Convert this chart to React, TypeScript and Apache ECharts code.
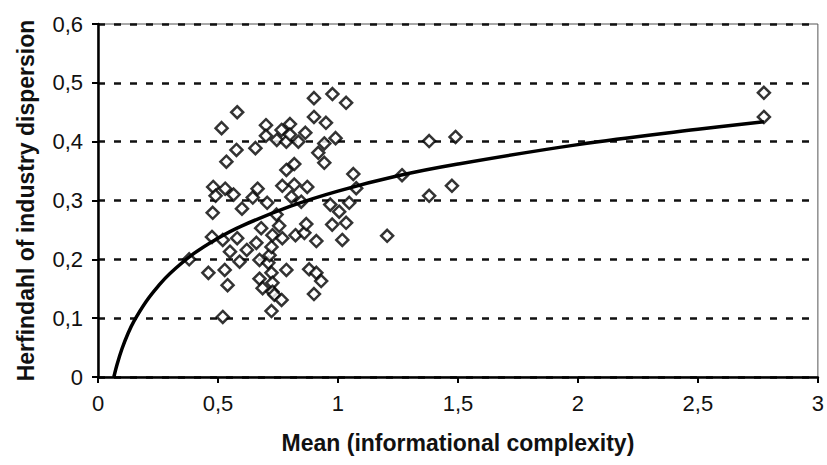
import React, { useEffect, useRef } from "react";
import * as echarts from "echarts";

// Scatter observations: [mean informational complexity, Herfindahl]
const pointsX = [
  0.38, 0.46, 0.475, 0.478, 0.48, 0.49, 0.515, 0.52, 0.52, 0.528, 0.53, 0.535, 0.54, 0.55, 0.565,
  0.577, 0.58, 0.58, 0.59, 0.6, 0.62, 0.645, 0.656, 0.66, 0.665, 0.673, 0.673, 0.68, 0.686, 0.7,
  0.7, 0.705, 0.71, 0.715, 0.723, 0.723, 0.723, 0.727, 0.727, 0.727, 0.735, 0.745, 0.744, 0.755,
  0.765, 0.765, 0.768, 0.768, 0.785, 0.785, 0.785, 0.8, 0.8, 0.806, 0.818, 0.818, 0.823, 0.835,
  0.847, 0.86, 0.864, 0.868, 0.872, 0.88, 0.9, 0.9, 0.9, 0.91, 0.91, 0.918, 0.93, 0.943, 0.943,
  0.95, 0.968, 0.976, 0.977, 0.99, 1.005, 1.018, 1.034, 1.034, 1.047, 1.064, 1.076, 1.205, 1.267,
  1.38, 1.38, 1.475, 1.49, 2.775, 2.775,
];
const pointsY = [
  0.2, 0.177, 0.238, 0.279, 0.323, 0.308, 0.423, 0.102, 0.233, 0.182, 0.32, 0.366, 0.156, 0.213, 0.31,
  0.386, 0.45, 0.236, 0.196, 0.286, 0.216, 0.305, 0.389, 0.228, 0.32, 0.199, 0.167, 0.253, 0.151, 0.428,
  0.41, 0.296, 0.194, 0.207, 0.221, 0.177, 0.112, 0.241, 0.16, 0.145, 0.14, 0.403, 0.276, 0.257,
  0.42, 0.131, 0.325, 0.236, 0.4, 0.352, 0.182, 0.43, 0.412, 0.306, 0.362, 0.327, 0.241, 0.4,
  0.298, 0.245, 0.415, 0.26, 0.323, 0.183, 0.474, 0.442, 0.141, 0.231, 0.177, 0.381, 0.163, 0.397, 0.364,
  0.432, 0.293, 0.259, 0.481, 0.406, 0.281, 0.233, 0.466, 0.262, 0.296, 0.345, 0.321, 0.24, 0.343,
  0.401, 0.308, 0.325, 0.408, 0.483, 0.442,
];

// Logarithmic trend line
const trendX = [0.066, 0.08, 0.1, 0.125, 0.15, 0.2, 0.25, 0.3, 0.4, 0.5, 0.6, 0.8, 1.0, 1.25, 1.5, 2.0, 2.5, 2.775];
const trendY = [0.0, 0.022, 0.048, 0.074, 0.095, 0.128, 0.154, 0.176, 0.21, 0.236, 0.257, 0.29, 0.316, 0.342, 0.362, 0.395, 0.421, 0.434];

// Axis ticks
const xTicks = [0, 0.5, 1, 1.5, 2, 2.5, 3];
const yTicks = [0, 0.1, 0.2, 0.3, 0.4, 0.5, 0.6];

const fmt = (v: number) => String(v).replace(".", ",");

export default function App() {
  const ref = useRef<HTMLDivElement>(null);

  useEffect(() => {
    if (!ref.current) return;
    const chart = echarts.init(ref.current, undefined, { renderer: "svg" });
    const scatter = pointsX.map((x, i) => [x, pointsY[i]]);
    const trend = trendX.map((x, i) => [x, trendY[i]]);
    const font = "'Liberation Sans', Arial, Helvetica, sans-serif";
    chart.setOption({
      animation: false,
      backgroundColor: "#ffffff",
      grid: {
        left: 98,
        right: 9,
        top: 24,
        bottom: 88,
        show: true,
        borderColor: "#555",
        borderWidth: 1,
      },
      xAxis: {
        type: "value",
        min: xTicks[0],
        max: xTicks[xTicks.length - 1],
        interval: 0.5,
        name: "Mean (informational complexity)",
        nameLocation: "middle",
        nameGap: 54,
        nameTextStyle: { fontFamily: font, fontWeight: "bold", fontSize: 23, color: "#111" },
        axisLine: { show: true, onZero: false, lineStyle: { color: "#000", width: 2.5 } },
        axisTick: { show: true, inside: false, length: 6, lineStyle: { color: "#000", width: 2 } },
        axisLabel: {
          color: "#111",
          fontFamily: font,
          fontSize: 22,
          margin: 15,
          formatter: (v: number) => fmt(v),
        },
        splitLine: { show: false },
      },
      yAxis: {
        type: "value",
        min: yTicks[0],
        max: yTicks[yTicks.length - 1],
        interval: 0.1,
        name: "Herfindahl of industry dispersion",
        nameLocation: "middle",
        nameGap: 61,
        nameTextStyle: { fontFamily: font, fontWeight: "bold", fontSize: 23, color: "#111" },
        axisLine: { show: true, onZero: false, lineStyle: { color: "#000", width: 2.5 } },
        axisTick: { show: true, inside: false, length: 6, lineStyle: { color: "#000", width: 2 } },
        axisLabel: {
          color: "#111",
          fontFamily: font,
          fontSize: 22,
          margin: 15,
          formatter: (v: number) => fmt(Math.round(v * 10) / 10),
        },
        splitLine: {
          show: true,
          lineStyle: { color: "#111", width: 2.5, type: [7, 9] },
        },
      },
      series: [
        {
          type: "scatter",
          data: scatter,
          symbol: "diamond",
          symbolSize: 12,
          itemStyle: { color: "#ffffff", borderColor: "#000", borderWidth: 2.5 },
          z: 3,
        },
        {
          type: "line",
          data: trend,
          smooth: 0.4,
          showSymbol: false,
          symbol: "none",
          lineStyle: { color: "#000", width: 3.5 },
          z: 4,
        },
      ],
    });
    return () => chart.dispose();
  }, []);

  return <div ref={ref} style={{ width: 827, height: 465, position: "absolute", left: 0, top: 0 }} />;
}
